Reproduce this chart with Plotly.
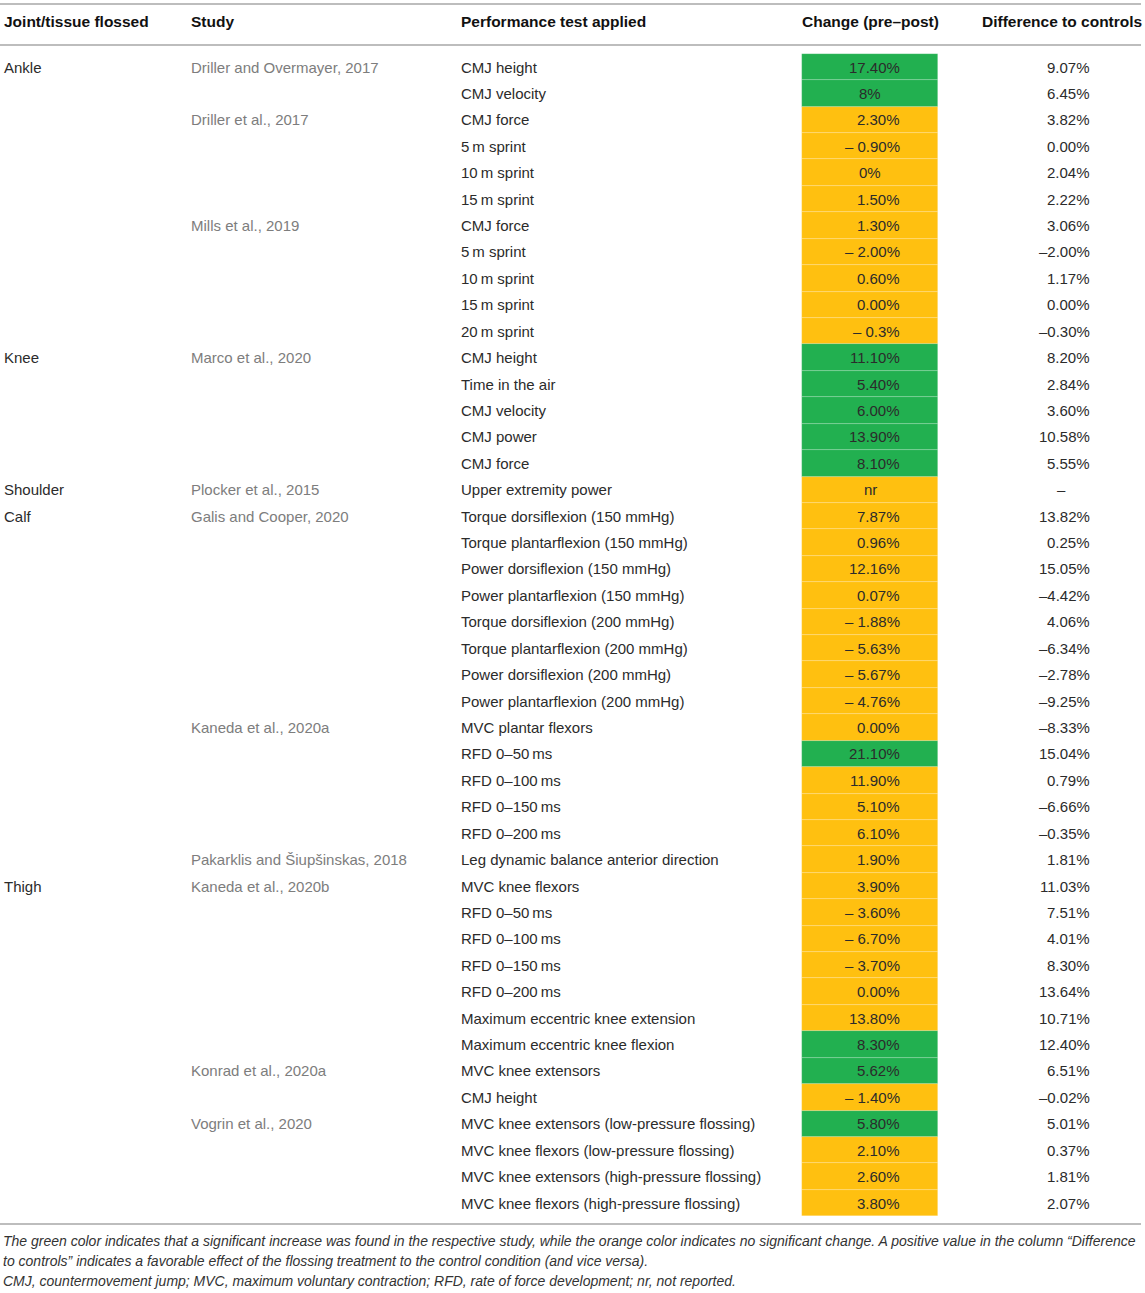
import plotly.graph_objects as go

# --- table content -------------------------------------------------------
joint = ["Ankle"] + [""] * 10 + ["Knee"] + [""] * 4 + ["Shoulder", "Calf"] + [""] * 13 + ["Thigh"] + [""] * 12

study = ["Driller and Overmayer, 2017", "", "Driller et al., 2017", "", "", "",
         "Mills et al., 2019", "", "", "", "",
         "Marco et al., 2020", "", "", "", "",
         "Plocker et al., 2015",
         "Galis and Cooper, 2020", "", "", "", "", "", "", "",
         "Kaneda et al., 2020a", "", "", "", "",
         "Pakarklis and Šiupšinskas, 2018",
         "Kaneda et al., 2020b", "", "", "", "", "", "",
         "Konrad et al., 2020a", "",
         "Vogrin et al., 2020", "", "", ""]

test = ["CMJ height", "CMJ velocity", "CMJ force", "5\u2009m sprint", "10\u2009m sprint", "15\u2009m sprint",
        "CMJ force", "5\u2009m sprint", "10\u2009m sprint", "15\u2009m sprint", "20\u2009m sprint",
        "CMJ height", "Time in the air", "CMJ velocity", "CMJ power", "CMJ force",
        "Upper extremity power",
        "Torque dorsiflexion (150 mmHg)", "Torque plantarflexion (150 mmHg)",
        "Power dorsiflexion (150 mmHg)", "Power plantarflexion (150 mmHg)",
        "Torque dorsiflexion (200 mmHg)", "Torque plantarflexion (200 mmHg)",
        "Power dorsiflexion (200 mmHg)", "Power plantarflexion (200 mmHg)",
        "MVC plantar flexors", "RFD 0–50\u2009ms", "RFD 0–100\u2009ms", "RFD 0–150\u2009ms", "RFD 0–200\u2009ms",
        "Leg dynamic balance anterior direction",
        "MVC knee flexors", "RFD 0–50\u2009ms", "RFD 0–100\u2009ms", "RFD 0–150\u2009ms", "RFD 0–200\u2009ms",
        "Maximum eccentric knee extension", "Maximum eccentric knee flexion",
        "MVC knee extensors", "CMJ height",
        "MVC knee extensors (low-pressure flossing)", "MVC knee flexors (low-pressure flossing)",
        "MVC knee extensors (high-pressure flossing)", "MVC knee flexors (high-pressure flossing)"]

change = ["17.40%", "8%", "2.30%", "– 0.90%", "0%", "1.50%",
          "1.30%", "– 2.00%", "0.60%", "0.00%", "– 0.3%",
          "11.10%", "5.40%", "6.00%", "13.90%", "8.10%",
          "nr",
          "7.87%", "0.96%", "12.16%", "0.07%", "– 1.88%", "– 5.63%", "– 5.67%", "– 4.76%",
          "0.00%", "21.10%", "11.90%", "5.10%", "6.10%",
          "1.90%",
          "3.90%", "– 3.60%", "– 6.70%", "– 3.70%", "0.00%", "13.80%", "8.30%",
          "5.62%", "– 1.40%",
          "5.80%", "2.10%", "2.60%", "3.80%"]

significant = [1, 1, 0, 0, 0, 0,
               0, 0, 0, 0, 0,
               1, 1, 1, 1, 1,
               0,
               0, 0, 0, 0, 0, 0, 0, 0,
               0, 1, 0, 0, 0,
               0,
               0, 0, 0, 0, 0, 0, 1,
               1, 0,
               1, 0, 0, 0]

diff_controls = ["9.07%", "6.45%", "3.82%", "0.00%", "2.04%", "2.22%",
                 "3.06%", "–2.00%", "1.17%", "0.00%", "–0.30%",
                 "8.20%", "2.84%", "3.60%", "10.58%", "5.55%",
                 "–",
                 "13.82%", "0.25%", "15.05%", "–4.42%", "4.06%", "–6.34%", "–2.78%", "–9.25%",
                 "–8.33%", "15.04%", "0.79%", "–6.66%", "–0.35%",
                 "1.81%",
                 "11.03%", "7.51%", "4.01%", "8.30%", "13.64%", "10.71%", "12.40%",
                 "6.51%", "–0.02%",
                 "5.01%", "0.37%", "1.81%", "2.07%"]

headers = ["Joint/tissue flossed", "Study", "Performance test applied", "Change (pre–post)", "Difference to controls"]

notes = ["The green color indicates that a significant increase was found in the respective study, "
         "while the orange color indicates no significant change. A positive value in the column \u201cDifference",
         "to controls\u201d indicates a favorable effect of the flossing treatment to the control condition (and vice versa).",
         "CMJ, countermovement jump; MVC, maximum voluntary contraction; RFD, rate of force development; nr, not reported."]

# --- layout constants ----------------------------------------------------
W, H = 1145, 1293
ROW0, ROW_H = 67, 26.42
GREEN, ORANGE = "#22B050", "#FFC010"
FONT = "Liberation Sans, Arial, sans-serif"
DARK, GREY = "#2b2b2b", "#7d7d7d"


def paper_y(px):
    return 1 - px / H


rows = list(range(len(test)))

fig = go.Figure()
fig.add_trace(go.Bar(
    y=rows, x=[136] * len(rows), base=802, orientation="h", width=1,
    marker=dict(color=[GREEN if s else ORANGE for s in significant],
                line=dict(color="rgba(255,255,255,0.3)", width=0.6)),
    hoverinfo="skip", showlegend=False,
))

ann = []
for i in rows:
    ann.append(dict(x=2, y=i, text=joint[i], xanchor="left", font=dict(color=DARK)))
    ann.append(dict(x=189, y=i, text=study[i], xanchor="left", font=dict(color=GREY)))
    ann.append(dict(x=459, y=i, text=test[i], xanchor="left", font=dict(color=DARK)))
    if "." in change[i]:
        ann.append(dict(x=902, y=i, text=change[i], xanchor="right", font=dict(color=DARK)))
    else:
        ann.append(dict(x=870, y=i, text=change[i], xanchor="center", font=dict(color=DARK)))
    if "." in diff_controls[i]:
        ann.append(dict(x=1092, y=i, text=diff_controls[i], xanchor="right", font=dict(color=DARK)))
    else:
        ann.append(dict(x=1061, y=i, text=diff_controls[i], xanchor="center", font=dict(color=DARK)))

for a in ann:
    a.update(xref="x", yref="y", yanchor="middle", showarrow=False)
    a["font"].update(family=FONT, size=15)

head_x = [(2, "left"), (189, "left"), (459, "left"), (870, "center"), (1144, "right")]
for (hx, anchor), h in zip(head_x, headers):
    ann.append(dict(x=hx, y=paper_y(22), xref="x", yref="paper", text="<b>" + h + "</b>",
                    xanchor=anchor, yanchor="middle", showarrow=False,
                    font=dict(family=FONT, size=15.5, color="#111111")))

for ny, note in zip([1241, 1261, 1281], notes):
    ann.append(dict(x=1, y=paper_y(ny), xref="x", yref="paper", text="<i>" + note + "</i>",
                    xanchor="left", yanchor="middle", showarrow=False,
                    font=dict(family=FONT, size=14, color="#333333")))

shapes = []
for ly in [4, 45, 1224]:
    shapes.append(dict(type="line", xref="x", yref="paper", x0=0, x1=1141,
                       y0=paper_y(ly), y1=paper_y(ly), line=dict(color="#bdbdbd", width=2)))

fig.update_layout(
    width=W, height=H, autosize=False,
    margin=dict(l=0, r=0, t=0, b=0),
    paper_bgcolor="white", plot_bgcolor="white",
    xaxis=dict(range=[0, W], visible=False, fixedrange=True),
    yaxis=dict(range=[(H - ROW0) / ROW_H, -ROW0 / ROW_H], visible=False, fixedrange=True),
    annotations=ann, shapes=shapes, bargap=0,
)

# the page body has a default 8px margin; drop it so the figure sits at the corner
fig.write_html("out.html", config={"displayModeBar": False},
               post_script="document.body.style.margin='0';")
